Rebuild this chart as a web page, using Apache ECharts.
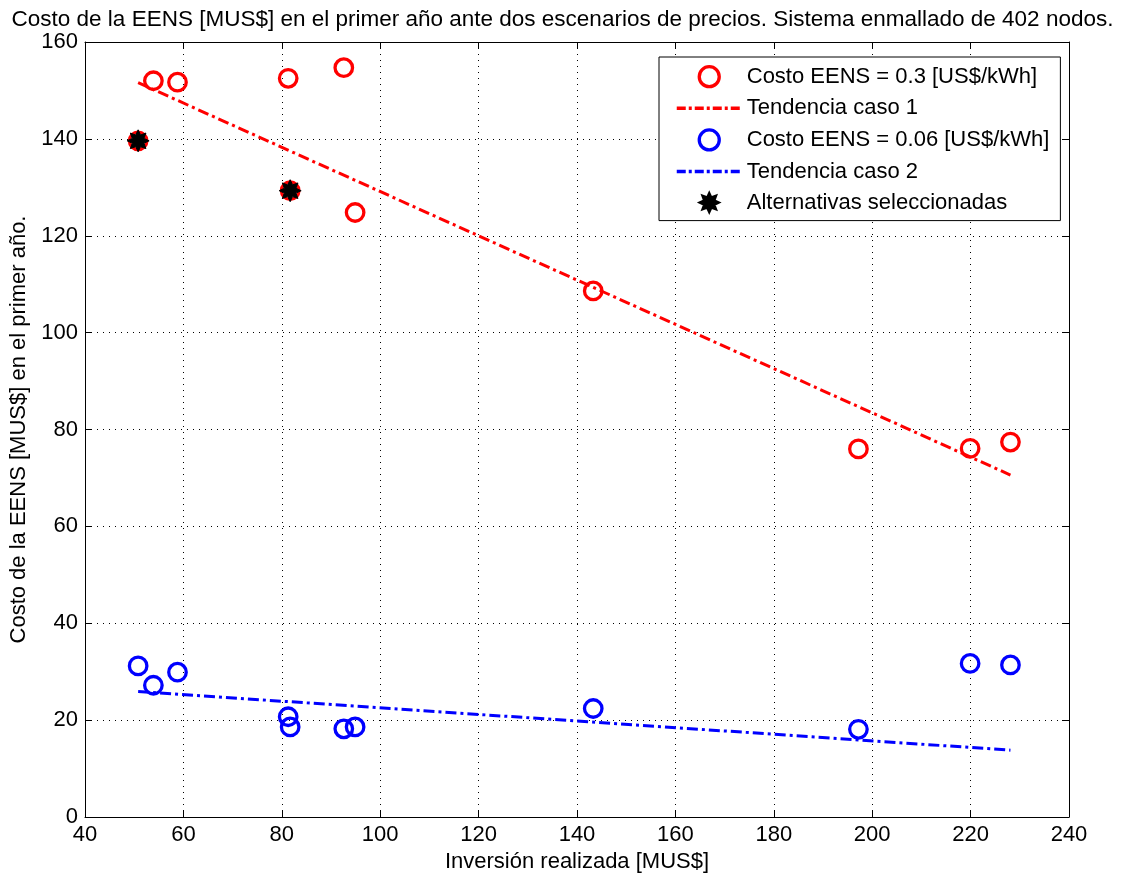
<!DOCTYPE html>
<html>
<head>
<meta charset="utf-8">
<script src="https://cdn.jsdelivr.net/npm/echarts@6/dist/echarts.min.js"></script>
<style>html,body{margin:0;padding:0;background:#fff;}#c{width:1125px;height:878px;}</style>
</head>
<body>
<div id="c"></div>
<script>
const inversion = [50.8, 53.9, 58.8, 81.3, 81.7, 92.6, 94.9, 143.3, 197.2, 219.9, 228.1];
const costoCaso1 = [139.6, 152.0, 151.7, 152.5, 129.3, 154.7, 124.8, 108.6, 76.0, 76.1, 77.4];
const costoCaso2 = [31.2, 27.2, 29.9, 20.7, 18.6, 18.2, 18.6, 22.4, 18.1, 31.7, 31.4];
const tendenciaX = [50.8, 228.1];
const tendencia1 = [151.6, 70.6];
const tendencia2 = [25.9, 13.8];
const seleccionX = [50.8, 81.7];
const seleccionY = [139.6, 129.3];
const xTicks = [40, 60, 80, 100, 120, 140, 160, 180, 200, 220, 240];
const yTicks = [0, 20, 40, 60, 80, 100, 120, 140, 160];

const zip = (a, b) => a.map((v, i) => [v, b[i]]);
const FONT = 'Liberation Sans';
const FS = 22;
const starPath = 'path://M0,-10 L2.2,-5.3 L7.07,-7.07 L5.3,-2.2 L10,0 L5.3,2.2 L7.07,7.07 L2.2,5.3 L0,10 L-2.2,5.3 L-7.07,7.07 L-5.3,2.2 L-10,0 L-5.3,-2.2 L-7.07,-7.07 L-2.2,-5.3 Z';
const dashDot = [11, 4, 3, 4];
const legendDash = [9, 3, 3, 3];
const NAMES = ['Costo EENS = 0.3 [US$/kWh]', 'Tendencia caso 1', 'Costo EENS = 0.06 [US$/kWh]', 'Tendencia caso 2', 'Alternativas seleccionadas'];

const chart = echarts.init(document.getElementById('c'), null, {renderer: 'canvas'});
const axisBase = {
  type: 'value',
  axisLine: {show: true, onZero: false, lineStyle: {color: '#000', width: 1}},
  axisTick: {show: true, inside: true, length: 7, lineStyle: {color: '#000'}},
  splitLine: {show: false},
  axisLabel: {show: false}
};
const circleStyle = c => ({color: 'rgba(255,255,255,0)', borderColor: c, borderWidth: 3.3, opacity: 1});
chart.setOption({
  animation: false,
  backgroundColor: '#fff',
  textStyle: {fontFamily: FONT},
  title: {
    text: 'Costo de la EENS [MUS$] en el primer año ante dos escenarios de precios. Sistema enmallado de 402 nodos.',
    left: 'center', top: 3,
    textStyle: {fontFamily: FONT, fontSize: 22.5, fontWeight: 'normal', color: '#000'}
  },
  grid: {left: 85, right: 56, top: 42, bottom: 61},
  legend: {
    orient: 'vertical',
    left: 659, top: 57,
    padding: [8, 11, 7, 16],
    itemWidth: 65, itemHeight: 20, itemGap: 9,
    borderColor: '#000', borderWidth: 1, borderRadius: 0,
    backgroundColor: '#fff',
    textStyle: {fontFamily: FONT, fontSize: FS, color: '#000'},
    data: [
      {name: NAMES[0], itemStyle: circleStyle('#ff0000')},
      {name: NAMES[1], itemStyle: {opacity: 0}, lineStyle: {color: '#ff0000', width: 3.5, type: legendDash}},
      {name: NAMES[2], itemStyle: circleStyle('#0000ff')},
      {name: NAMES[3], itemStyle: {opacity: 0}, lineStyle: {color: '#0000ff', width: 3.5, type: legendDash}},
      {name: NAMES[4]}
    ]
  },
  xAxis: [
    Object.assign({}, axisBase, {
      min: 40, max: 240, interval: 20, position: 'bottom',
      name: 'Inversión realizada [MUS$]', nameLocation: 'middle', nameGap: 30,
      nameTextStyle: {fontFamily: FONT, fontSize: FS, color: '#000'},
      axisLabel: {show: true, fontFamily: FONT, fontSize: FS, color: '#000', margin: 7,
        formatter: v => xTicks.includes(v) ? String(v) : ''},
      splitLine: {show: true, lineStyle: {color: '#000', type: [1, 5], width: 1}}
    }),
    Object.assign({}, axisBase, {min: 40, max: 240, interval: 20, position: 'top'})
  ],
  yAxis: [
    Object.assign({}, axisBase, {
      min: 0, max: 160, interval: 20, position: 'left',
      name: 'Costo de la EENS [MUS$] en el primer año.', nameLocation: 'middle', nameGap: 52,
      nameTextStyle: {fontFamily: FONT, fontSize: FS, color: '#000'},
      axisLabel: {show: true, fontFamily: FONT, fontSize: FS, color: '#000', margin: 7,
        formatter: v => yTicks.includes(v) ? String(v) : ''},
      splitLine: {show: true, lineStyle: {color: '#000', type: [1, 5], width: 1}}
    }),
    Object.assign({}, axisBase, {min: 0, max: 160, interval: 20, position: 'right'})
  ],
  series: [
    {
      name: NAMES[0], type: 'scatter',
      data: zip(inversion, costoCaso1),
      symbol: 'circle', symbolSize: 17.5,
      itemStyle: circleStyle('#ff0000'),
      z: 3
    },
    {
      name: NAMES[1], type: 'line',
      data: zip(tendenciaX, tendencia1),
      symbol: 'none', showSymbol: false,
      lineStyle: {color: '#ff0000', width: 3, type: dashDot, opacity: 1},
      itemStyle: {color: 'rgba(0,0,0,0)', borderWidth: 0},
      z: 2
    },
    {
      name: NAMES[2], type: 'scatter',
      data: zip(inversion, costoCaso2),
      symbol: 'circle', symbolSize: 17.5,
      itemStyle: circleStyle('#0000ff'),
      z: 3
    },
    {
      name: NAMES[3], type: 'line',
      data: zip(tendenciaX, tendencia2),
      symbol: 'none', showSymbol: false,
      lineStyle: {color: '#0000ff', width: 3, type: dashDot, opacity: 1},
      itemStyle: {color: 'rgba(0,0,0,0)', borderWidth: 0},
      z: 2
    },
    {
      name: NAMES[4], type: 'scatter',
      data: zip(seleccionX, seleccionY),
      symbol: starPath, symbolSize: 22,
      itemStyle: {color: '#000', borderColor: '#000', borderWidth: 1, opacity: 1},
      z: 4
    }
  ]
});
</script>
</body>
</html>
